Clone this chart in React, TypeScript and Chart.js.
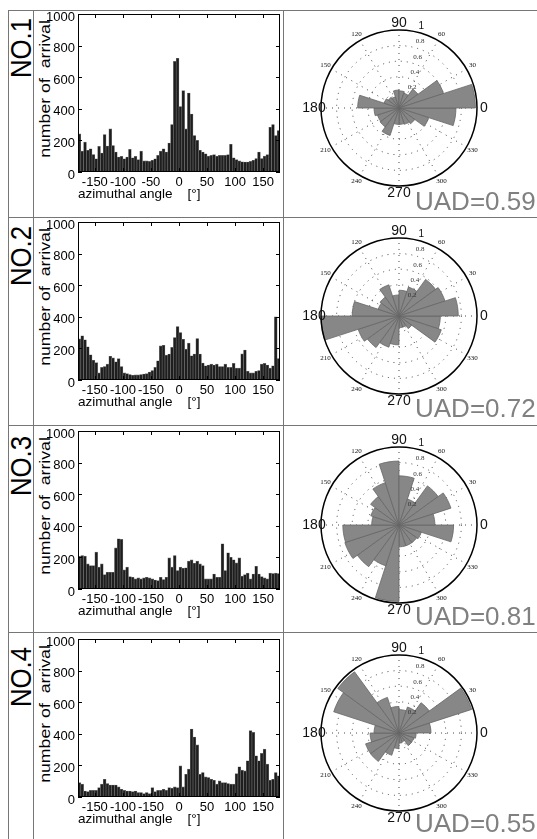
import React, { useEffect, useRef } from 'react';
import { Chart, registerables } from 'chart.js';

Chart.register(...registerables);

const FONT = "'Liberation Sans', Arial, Helvetica, sans-serif";
const SERIF = "'Liberation Serif', 'Times New Roman', serif";

// ---------- data ----------
const PANEL_NAMES = ['NO.1', 'NO.2', 'NO.3', 'NO.4'];
const UAD_LABELS = ['UAD=0.59', 'UAD=0.72', 'UAD=0.81', 'UAD=0.55'];

// histogram bins: 5 degree wide, centres from -177.5 to 177.5
const BIN_CENTERS = [
  -177.5, -172.5, -167.5, -162.5, -157.5, -152.5, -147.5, -142.5, -137.5, -132.5,
  -127.5, -122.5, -117.5, -112.5, -107.5, -102.5, -97.5, -92.5, -87.5, -82.5,
  -77.5, -72.5, -67.5, -62.5, -57.5, -52.5, -47.5, -42.5, -37.5, -32.5,
  -27.5, -22.5, -17.5, -12.5, -7.5, -2.5, 2.5, 7.5, 12.5, 17.5,
  22.5, 27.5, 32.5, 37.5, 42.5, 47.5, 52.5, 57.5, 62.5, 67.5,
  72.5, 77.5, 82.5, 87.5, 92.5, 97.5, 102.5, 107.5, 112.5, 117.5,
  122.5, 127.5, 132.5, 137.5, 142.5, 147.5, 152.5, 157.5, 162.5, 167.5,
  172.5, 177.5,
];

const X_TICKS = [-150, -100, -50, 0, 50, 100, 150];
const X_TICK_LABELS_NO1 = ['-150', '-100', '-50', '0', '50', '100', '150'];
const X_TICK_LABELS_REST = ['-150', '-100', '-150', '0', '50', '100', '150'];
const Y_TICKS = [0, 200, 400, 600, 800, 1000];
const X_TITLE = 'azimuthal angle    [°]';
const Y_TITLE = 'number of  arrival';

const HIST_NO1 = [241, 132, 189, 137, 147, 111, 84, 162, 120, 237, 164, 273, 168, 126, 95, 99, 84, 95, 143, 90, 99, 78, 132, 70, 70, 67, 74, 84, 105, 132, 147, 126, 183, 300, 700, 720, 414, 515, 273, 500, 367, 231, 200, 137, 126, 115, 100, 105, 110, 100, 105, 105, 105, 110, 175, 90, 78, 70, 65, 63, 63, 67, 74, 85, 126, 85, 100, 110, 283, 300, 231, 262];
const HIST_NO2 = [260, 280, 255, 210, 160, 125, 110, 45, 80, 85, 100, 150, 140, 115, 135, 85, 45, 40, 35, 30, 32, 32, 35, 38, 40, 50, 60, 80, 122, 216, 220, 157, 164, 206, 269, 338, 300, 258, 195, 233, 153, 164, 262, 164, 107, 90, 95, 100, 95, 100, 85, 85, 100, 80, 80, 105, 75, 75, 165, 190, 55, 45, 45, 55, 60, 100, 105, 95, 75, 90, 400, 136];
const HIST_NO3 = [206, 212, 208, 159, 148, 148, 233, 138, 159, 91, 106, 106, 106, 260, 318, 314, 121, 138, 78, 74, 64, 70, 64, 70, 74, 70, 64, 57, 53, 74, 60, 74, 197, 138, 212, 117, 138, 131, 134, 176, 184, 163, 176, 159, 148, 64, 64, 64, 95, 74, 74, 286, 117, 229, 201, 185, 165, 197, 81, 91, 100, 64, 95, 144, 95, 78, 70, 64, 100, 98, 100, 98];
const HIST_NO4 = [91, 81, 38, 34, 42, 42, 42, 59, 81, 112, 85, 76, 76, 76, 64, 49, 42, 38, 38, 34, 38, 28, 28, 21, 28, 21, 59, 34, 42, 42, 49, 42, 59, 55, 64, 59, 197, 64, 144, 176, 430, 380, 330, 144, 155, 127, 123, 112, 106, 81, 102, 91, 91, 85, 81, 81, 148, 191, 170, 165, 229, 420, 409, 261, 229, 276, 303, 208, 106, 112, 155, 134];

// rose bins: 18 degree wide, counter-clockwise from 0
const ROSE_BINS = ['0-18', '18-36', '36-54', '54-72', '72-90', '90-108', '108-126', '126-144', '144-162', '162-180', '180-198', '198-216', '216-234', '234-252', '252-270', '270-288', '288-306', '306-324', '324-342', '342-360'];
const ROSE_NO1 = [0.98, 0.6, 0.3, 0.2, 0.22, 0.23, 0.15, 0.17, 0.2, 0.53, 0.32, 0.29, 0.3, 0.37, 0.21, 0.21, 0.22, 0.25, 0.4, 0.73];
const ROSE_NO2 = [0.76, 0.62, 0.58, 0.39, 0.33, 0.27, 0.42, 0.3, 0.28, 0.6, 1.0, 0.55, 0.5, 0.42, 0.37, 0.15, 0.15, 0.2, 0.57, 0.53];
const ROSE_NO3 = [0.46, 0.7, 0.62, 0.35, 0.63, 0.82, 0.57, 0.45, 0.38, 0.35, 0.72, 0.73, 0.66, 0.55, 0.98, 0.28, 0.28, 0.28, 0.3, 0.7];
const ROSE_NO4 = [0.41, 0.98, 0.48, 0.35, 0.3, 0.34, 0.48, 0.97, 0.88, 0.32, 0.37, 0.45, 0.45, 0.3, 0.2, 0.13, 0.12, 0.2, 0.2, 0.22];

const ANGLE_LABELS = [0, 30, 60, 90, 120, 150, 180, 210, 240, 270, 300, 330];
const MAJOR_ANGLES = [0, 90, 180, 270];
const RADIAL_TICKS = [0.2, 0.4, 0.6, 0.8, 1];
const RADIAL_TICK_LABELS = ['0.2', '0.4', '0.6', '0.8', '1'];

const HISTS = [HIST_NO1, HIST_NO2, HIST_NO3, HIST_NO4];
const ROSES = [ROSE_NO1, ROSE_NO2, ROSE_NO3, ROSE_NO4];
const TICK_LABEL_SETS = [X_TICK_LABELS_NO1, X_TICK_LABELS_REST, X_TICK_LABELS_REST, X_TICK_LABELS_REST];

// ---------- layout ----------
const ROW_TOPS = [10, 217, 425, 632];
const PLOT_TOPS = [14, 222, 431, 639];
const NAME_CENTERS = [48, 256, 466, 677];
const LINE_COLOR = '#767676';

// ---------- plugins ----------
const boxTicksPlugin = {
  id: 'boxTicks',
  afterDatasetsDraw(chart: any) {
    const { ctx, chartArea: a } = chart;
    const x = chart.scales.x;
    const y = chart.scales.y;
    ctx.save();
    ctx.strokeStyle = '#000';
    ctx.lineWidth = 1;
    ctx.strokeRect(a.left + 0.5, a.top + 0.5, a.right - a.left - 1, a.bottom - a.top - 1);
    ctx.beginPath();
    x.ticks.forEach((t: any) => {
      const px = Math.round(x.getPixelForValue(t.value)) + 0.5;
      ctx.moveTo(px, a.top);
      ctx.lineTo(px, a.top + 4);
      ctx.moveTo(px, a.bottom);
      ctx.lineTo(px, a.bottom - 4);
    });
    y.ticks.forEach((t: any) => {
      const py = Math.round(y.getPixelForValue(t.value)) + 0.5;
      ctx.moveTo(a.left, py);
      ctx.lineTo(a.left + 4, py);
      ctx.moveTo(a.right, py);
      ctx.lineTo(a.right - 4, py);
    });
    ctx.stroke();
    ctx.restore();
  },
};

const roseFramePlugin = {
  id: 'roseFrame',
  beforeDatasetsDraw(chart: any) {
    const s = chart.scales.r;
    const ctx = chart.ctx;
    const R = s.getDistanceFromCenterForValue(1);
    ctx.save();
    ctx.strokeStyle = '#333';
    ctx.lineWidth = 0.9;
    ctx.setLineDash([1, 5]);
    ANGLE_LABELS.forEach((deg) => {
      const a = (deg * Math.PI) / 180;
      ctx.beginPath();
      ctx.moveTo(s.xCenter, s.yCenter);
      ctx.lineTo(s.xCenter + Math.cos(a) * R, s.yCenter - Math.sin(a) * R);
      ctx.stroke();
    });
    ctx.restore();
  },
  afterDatasetsDraw(chart: any) {
    const s = chart.scales.r;
    const ctx = chart.ctx;
    const R = s.getDistanceFromCenterForValue(1);
    ctx.save();
    ctx.strokeStyle = '#000';
    ctx.lineWidth = 1.5;
    ctx.beginPath();
    ctx.arc(s.xCenter, s.yCenter, R, 0, Math.PI * 2);
    ctx.stroke();
    ctx.fillStyle = '#111';
    ctx.textAlign = 'center';
    ctx.textBaseline = 'middle';
    ANGLE_LABELS.forEach((deg) => {
      const a = (deg * Math.PI) / 180;
      const major = MAJOR_ANGLES.includes(deg);
      ctx.font = major ? `14px ${FONT}` : `7px ${SERIF}`;
      const r = R + 7;
      ctx.fillText(String(deg), s.xCenter + Math.cos(a) * r, s.yCenter - Math.sin(a) * r);
    });
    const ra = (80 * Math.PI) / 180;
    ctx.textAlign = 'left';
    RADIAL_TICKS.forEach((v, i) => {
      const d = s.getDistanceFromCenterForValue(v);
      ctx.font = v >= 1 ? `10px ${FONT}` : `7px ${SERIF}`;
      ctx.fillStyle = v >= 1 ? '#111' : '#333';
      ctx.fillText(RADIAL_TICK_LABELS[i], s.xCenter + Math.cos(ra) * d + 6, s.yCenter - Math.sin(ra) * d - 5);
    });
    ctx.restore();
  },
};

// ---------- components ----------
function Histogram({ values, tickLabels, plotTop }: { values: number[]; tickLabels: string[]; plotTop: number }) {
  const ref = useRef<HTMLCanvasElement>(null);
  useEffect(() => {
    const chart = new Chart(ref.current as HTMLCanvasElement, {
      type: 'bar',
      data: {
        datasets: [
          {
            data: BIN_CENTERS.map((x, i) => ({ x, y: values[i] })) as any,
            backgroundColor: '#1e1e1e',
            borderColor: '#707070',
            borderWidth: 0.6,
            barPercentage: 1,
            categoryPercentage: 1,
          },
        ],
      },
      options: {
        animation: false,
        responsive: false,
        events: [],
        layout: { padding: { left: 0, top: 12, right: 3, bottom: 0 } },
        plugins: { legend: { display: false }, tooltip: { enabled: false } },
        scales: {
          x: {
            type: 'linear',
            min: -180,
            max: 180,
            offset: false,
            afterBuildTicks: (s: any) => {
              s.ticks = X_TICKS.map((v) => ({ value: v }));
            },
            afterFit: (s: any) => {
              s.height = 35;
              s.paddingLeft = 0;
              s.paddingRight = 0;
            },
            grid: { display: false, drawTicks: false },
            border: { display: false },
            ticks: {
              autoSkip: false,
              maxRotation: 0,
              padding: 3,
              color: '#000',
              font: { family: FONT, size: 13 },
              callback: (v: any) => {
                const k = X_TICKS.indexOf(Number(v));
                return k >= 0 ? tickLabels[k] : '';
              },
            },
            title: {
              display: true,
              text: X_TITLE,
              align: 'start',
              color: '#000',
              font: { family: FONT, size: 13.5 },
              padding: { top: 0, bottom: 5 },
            },
          } as any,
          y: {
            type: 'linear',
            min: 0,
            max: 1000,
            afterBuildTicks: (s: any) => {
              s.ticks = Y_TICKS.map((v) => ({ value: v }));
            },
            afterFit: (s: any) => {
              s.width = 44;
              s.paddingTop = 0;
              s.paddingBottom = 0;
            },
            grid: { display: false, drawTicks: false },
            border: { display: false },
            ticks: {
              padding: 3,
              labelOffset: 3,
              color: '#000',
              font: { family: FONT, size: 13 },
              callback: (v: any) => String(v),
            },
            title: { display: false },
          } as any,
        },
      },
      plugins: [boxTicksPlugin],
    });
    return () => chart.destroy();
  }, []);
  return (
    <canvas
      ref={ref}
      width={249}
      height={205}
      style={{ position: 'absolute', left: 34, top: plotTop - 12, width: 249, height: 205 }}
    />
  );
}

function Rose({ values, cy }: { values: number[]; cy: number }) {
  const ref = useRef<HTMLCanvasElement>(null);
  useEffect(() => {
    const chart = new Chart(ref.current as HTMLCanvasElement, {
      type: 'polarArea',
      data: {
        labels: ROSE_BINS.slice().reverse(),
        datasets: [
          {
            data: values.slice().reverse(),
            backgroundColor: '#878787',
            borderColor: '#666666',
            borderWidth: 0.8,
          },
        ],
      },
      options: {
        animation: false,
        responsive: false,
        events: [],
        layout: { padding: 22 },
        plugins: { legend: { display: false }, tooltip: { enabled: false } },
        scales: {
          r: {
            min: 0,
            max: 1,
            startAngle: 90,
            ticks: { display: false, stepSize: 0.2 },
            grid: {
              circular: true,
              color: (c: any) => (c.tick && c.tick.value >= 0.999 ? 'rgba(0,0,0,0)' : '#333'),
              lineWidth: 0.9,
            },
            border: { dash: [1, 5] },
            angleLines: { display: false },
            pointLabels: { display: false },
          } as any,
        },
      },
      plugins: [roseFramePlugin],
    });
    return () => chart.destroy();
  }, []);
  return (
    <canvas
      ref={ref}
      width={200}
      height={200}
      style={{ position: 'absolute', left: 299, top: cy - 100, width: 200, height: 200 }}
    />
  );
}

export default function App() {
  return (
    <div
      style={{
        position: 'absolute',
        left: 0,
        top: 0,
        width: 537,
        height: 839,
        overflow: 'hidden',
        background: '#fff',
        fontFamily: FONT,
      }}
    >
      {ROW_TOPS.map((y, i) => (
        <div key={'h' + i} style={{ position: 'absolute', left: 8, top: y, width: 529, height: 1, background: LINE_COLOR }} />
      ))}
      {[8, 33, 283].map((x, i) => (
        <div key={'v' + i} style={{ position: 'absolute', left: x, top: 10, width: 1, height: 829, background: LINE_COLOR }} />
      ))}
      {PANEL_NAMES.map((name, i) => (
        <div
          key={'n' + i}
          style={{
            position: 'absolute',
            left: 21 - 45,
            top: NAME_CENTERS[i] - 15,
            width: 90,
            height: 30,
            lineHeight: '30px',
            fontSize: 29,
            textAlign: 'center',
            color: '#000',
            transform: 'rotate(-90deg) scaleX(0.89)',
            whiteSpace: 'nowrap',
          }}
        >
          {name}
        </div>
      ))}
      {PLOT_TOPS.map((t, i) => (
        <div
          key={'yt' + i}
          style={{
            position: 'absolute',
            left: 45 - 90,
            top: t + 75 - 10,
            width: 180,
            height: 20,
            lineHeight: '20px',
            fontSize: 15,
            textAlign: 'center',
            color: '#000',
            transform: 'rotate(-90deg) scaleX(1.18)',
            whiteSpace: 'pre',
          }}
        >
          {Y_TITLE}
        </div>
      ))}
      {HISTS.map((h, i) => (
        <Histogram key={'hist' + i} values={h} tickLabels={TICK_LABEL_SETS[i]} plotTop={PLOT_TOPS[i]} />
      ))}
      {ROSES.map((r, i) => (
        <Rose key={'rose' + i} values={r} cy={PLOT_TOPS[i] + 94} />
      ))}
      {UAD_LABELS.map((t, i) => (
        <div
          key={'u' + i}
          style={{
            position: 'absolute',
            left: 415,
            top: ROW_TOPS[i] + 178,
            fontSize: 26,
            lineHeight: '26px',
            color: '#808080',
            whiteSpace: 'nowrap',
          }}
        >
          {t}
        </div>
      ))}
    </div>
  );
}
